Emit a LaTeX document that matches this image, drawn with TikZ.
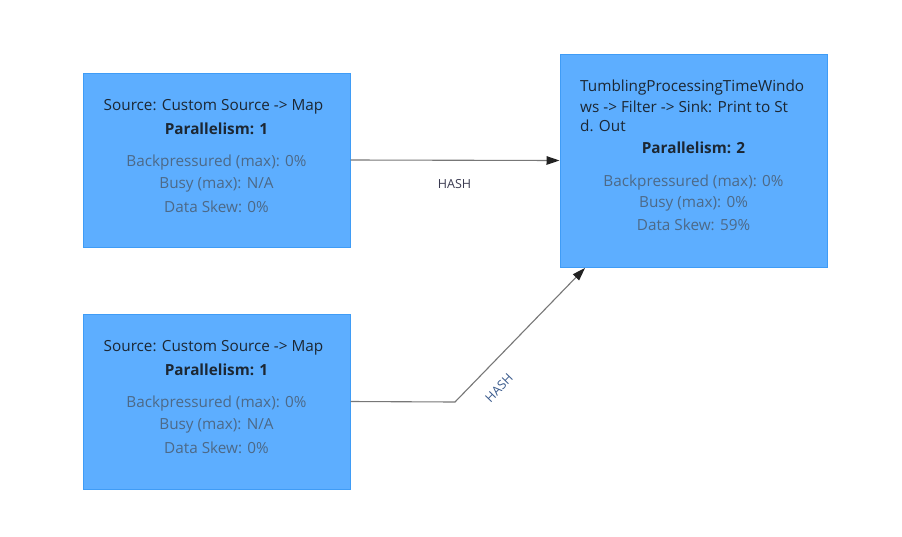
\documentclass[tikz,border=0pt]{standalone}
\usepackage{fontspec}
\setmainfont{Open Sans}
\usetikzlibrary{arrows.meta,calc}
\definecolor{boxfill}{HTML}{5DAEFF}
\definecolor{boxline}{HTML}{3F9CF6}
\definecolor{titlec}{HTML}{1C2733}
\definecolor{metricc}{HTML}{4D6987}
\definecolor{edgec}{HTML}{777777}
\definecolor{tipc}{HTML}{222222}
\definecolor{hashc}{HTML}{3A3A50}
\definecolor{hashb}{HTML}{3A5A8C}
\tikzset{
  opbox/.style={draw=boxline,line width=1pt,fill=boxfill,rectangle,minimum width=267pt,minimum height=#1,inner sep=0pt},
  ttl/.style={font=\fontsize{15.3}{18}\selectfont,text=titlec,inner sep=0pt,yshift=-2.5pt},
  par/.style={font=\fontsize{15.3}{18}\selectfont\bfseries,text=titlec,inner sep=0pt,yshift=-2.5pt},
  met/.style={font=\fontsize{15.3}{18}\selectfont,text=metricc,inner sep=0pt,yshift=-2.5pt},
  edge/.style={draw=edgec,line width=1.1pt,-{Triangle[length=13pt,width=8.5pt,color=tipc]}},
  hash/.style={font=\fontsize{12.5}{14}\selectfont,inner sep=0pt}
}
\begin{document}
\begin{tikzpicture}[x=1pt,y=-1pt]
\useasboundingbox (0,0) rectangle (902,536);
\fill[white] (0,0) rectangle (902,536);
% boxes
\node[opbox=174pt] (b1) at (216.5,160) {};
\node[opbox=175pt] (b2) at (216.5,401.5) {};
\node[opbox=213pt] (b3) at (693.5,160.5) {};
% box 1 text
\node[ttl] (b1t) at (213.5,104) {Source: Custom Source -> Map};
\node[par] (b1p) at (216.5,126) {Parallelism: 1};
\node[met] (b1m1) at (216.5,160) {Backpressured (max): 0\%};
\node[met] (b1m2) at (216.5,182) {Busy (max): N/A};
\node[met] (b1m3) at (216.5,204) {Data Skew: 0\%};
% box 2 text
\node[ttl] (b2t) at (213.5,345) {Source: Custom Source -> Map};
\node[par] (b2p) at (216.5,367) {Parallelism: 1};
\node[met] (b2m1) at (216.5,401) {Backpressured (max): 0\%};
\node[met] (b2m2) at (216.5,423) {Busy (max): N/A};
\node[met] (b2m3) at (216.5,445) {Data Skew: 0\%};
% box 3 text
\node[ttl,anchor=west] (b3t1) at (580,85) {TumblingProcessingTimeWindo};
\node[ttl,anchor=west] (b3t2) at (580,104) {ws -> Filter -> Sink: Print to St};
\node[ttl,anchor=west] (b3t3) at (580,123) {d. Out};
\node[par] (b3p) at (693.5,145) {Parallelism: 2};
\node[met] (b3m1) at (693.5,180) {Backpressured (max): 0\%};
\node[met] (b3m2) at (693.5,201) {Busy (max): 0\%};
\node[met] (b3m3) at (693.5,222) {Data Skew: 59\%};
% edges
\coordinate (bend) at (455,402);
\coordinate (tip) at (585,268);
\draw[edge] (b1.east) -- (b3.west);
\draw[edge] (b2.east) -- (bend) -- (tip);
\node[hash,text=hashc] (h1) at (454.5,184) {HASH};
\node[hash,text=hashb,rotate=46] (h2) at (499,388) {HASH};
\end{tikzpicture}
\end{document}
